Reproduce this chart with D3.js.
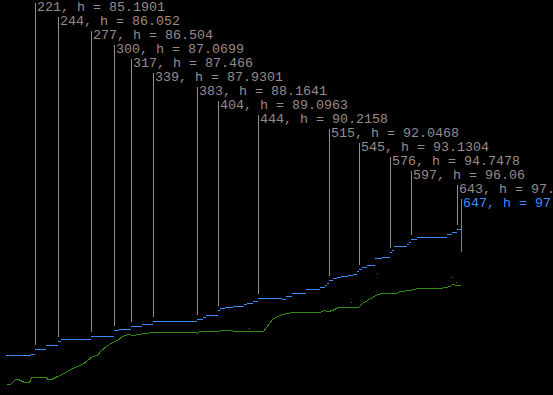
<!DOCTYPE html>
<html>
<head>
<meta charset="utf-8">
<script src="https://cdn.jsdelivr.net/npm/d3@7"></script>
<style>
	html, body { margin: 0; padding: 0; background: #000; overflow: hidden; }
	svg { display: block; }
</style>
</head>
<body>
<div id="plot"></div>
<script>

///////////////////////////////////////////////////////////////////////
// data: generation, h

const best_steps = [
	[ 192, 84.63 ], [ 217, 84.70 ], [ 221, 85.1901 ], [ 232, 85.58 ], [ 244, 86.052 ],
	[ 247, 86.17 ], [ 277, 86.504 ], [ 300, 87.0699 ], [ 305, 87.16 ], [ 317, 87.466 ],
	[ 328, 87.65 ], [ 339, 87.9301 ], [ 383, 88.1641 ], [ 389, 88.33 ], [ 392, 88.56 ],
	[ 404, 89.0963 ], [ 406, 89.25 ], [ 411, 89.32 ], [ 419, 89.45 ], [ 430, 89.61 ],
	[ 433, 89.74 ], [ 439, 89.91 ], [ 444, 90.2158 ], [ 468, 90.17 ], [ 472, 90.43 ],
	[ 478, 90.69 ], [ 492, 91.12 ], [ 506, 91.34 ], [ 511, 91.55 ], [ 513, 91.71 ],
	[ 515, 92.0468 ], [ 519, 92.17 ], [ 523, 92.30 ], [ 527, 92.42 ], [ 534, 92.52 ],
	[ 539, 92.59 ], [ 543, 92.85 ], [ 545, 93.1304 ], [ 548, 93.31 ], [ 553, 93.45 ],
	[ 561, 94.13 ], [ 568, 94.29 ], [ 576, 94.7478 ], [ 578, 94.95 ], [ 580, 95.34 ],
	[ 593, 95.54 ], [ 595, 95.75 ], [ 597, 96.06 ], [ 603, 96.20 ], [ 627, 96.26 ],
	[ 633, 96.52 ], [ 638, 96.69 ], [ 643, 97.0215 ], [ 647, 97.1208 ]
];

const mean_points = [
	[ 192, 81.81 ], [ 196, 81.81 ], [ 198, 81.93 ], [ 201, 82.24 ], [ 204, 82.32 ],
	[ 206, 82.14 ], [ 210, 81.98 ], [ 215, 82.01 ], [ 216, 82.17 ], [ 217, 82.44 ],
	[ 232, 82.44 ], [ 233, 82.24 ], [ 237, 82.27 ], [ 239, 82.37 ], [ 243, 82.57 ],
	[ 248, 82.81 ], [ 253, 83.03 ], [ 258, 83.35 ], [ 263, 83.55 ], [ 268, 83.78 ],
	[ 273, 84.11 ], [ 278, 84.50 ], [ 283, 84.63 ], [ 286, 85.05 ], [ 292, 85.47 ],
	[ 298, 85.91 ], [ 303, 86.15 ], [ 308, 86.45 ], [ 314, 86.74 ], [ 319, 86.60 ],
	[ 324, 86.65 ], [ 331, 86.76 ], [ 338, 86.86 ], [ 346, 86.92 ], [ 356, 86.86 ],
	[ 366, 86.92 ], [ 382, 86.92 ], [ 383, 86.84 ], [ 385, 86.99 ], [ 401, 87.01 ],
	[ 411, 87.06 ], [ 426, 87.02 ], [ 449, 87.02 ], [ 452, 87.41 ], [ 455, 87.75 ],
	[ 458, 88.14 ], [ 463, 88.46 ], [ 468, 88.63 ], [ 473, 88.79 ], [ 478, 88.89 ],
	[ 486, 88.81 ], [ 506, 88.81 ], [ 509, 89.05 ], [ 514, 88.91 ], [ 518, 89.05 ],
	[ 524, 89.32 ], [ 544, 89.32 ], [ 548, 89.71 ], [ 553, 90.04 ], [ 558, 90.36 ],
	[ 563, 90.60 ], [ 568, 90.75 ], [ 576, 90.72 ], [ 581, 90.77 ], [ 586, 90.92 ],
	[ 596, 91.02 ], [ 603, 91.17 ], [ 616, 91.24 ], [ 626, 91.19 ], [ 631, 91.36 ],
	[ 636, 91.46 ], [ 638, 91.56 ], [ 643, 91.48 ], [ 646, 91.49 ]
];

const mean_strays = [
	[ 435, 87.25 ], [ 537, 89.79 ], [ 563, 92.69 ], [ 638, 92.27 ], [ 642, 91.80 ]
];

const label_gens = [ 221, 244, 277, 300, 317, 339, 383, 404, 444, 515, 545, 576, 597, 643, 647 ];
const label_h = [
	"85.1901", "86.052", "86.504", "87.0699", "87.466", "87.9301", "88.1641", "89.0963",
	"90.2158", "92.0468", "93.1304", "94.7478", "96.06", "97.0215", "97.1208"
];

///////////////////////////////////////////////////////////////////////

const W = 553, H = 395;
const col_best = "#3a8cff";
const col_mean = "#338a10";
const col_label = "#9a8a8a";

let svg = d3.select( "#plot" )
	.append( "svg" )
		.attr( "width", W )
		.attr( "height", H );

svg.append( "rect" )
	.attr( "width", W )
	.attr( "height", H )
	.attr( "fill", "#000" );

let xs = d3.scaleLinear().domain( [ 186, 647 ] ).range( [ 0, 461 ] );
let ys = d3.scaleLinear().domain( [ 85.1901, 96.06 ] ).range( [ 349.3, 238.7 ] );

// mean line

svg.append( "path" )
	.datum( mean_points )
	.attr( "fill", "none" )
	.attr( "stroke", col_mean )
	.attr( "stroke-width", 1 )
	.attr( "shape-rendering", "crispEdges" )
	.attr( "d", d3.line()
		.x( d => xs( d[ 0 ] ) + 0.5 )
		.y( d => Math.round( ys( d[ 1 ] ) ) + 0.5 )
	);

svg.append( "g" )
	.selectAll( "rect" )
	.data( mean_strays )
	.join( "rect" )
		.attr( "x", d => xs( d[ 0 ] ) )
		.attr( "y", d => Math.round( ys( d[ 1 ] ) ) )
		.attr( "width", 1 )
		.attr( "height", 1 )
		.attr( "fill", col_mean );

// best so far, one flat run per step

svg.append( "g" )
	.selectAll( "rect" )
	.data( best_steps )
	.join( "rect" )
		.attr( "x", d => xs( d[ 0 ] ) )
		.attr( "y", d => Math.round( ys( d[ 1 ] ) ) )
		.attr( "width", ( d, i ) => {
			let next = i + 1 < best_steps.length ? best_steps[ i + 1 ][ 0 ] : d[ 0 ] + 1;
			return xs( next ) - xs( d[ 0 ] );
		} )
		.attr( "height", 1 )
		.attr( "fill", col_best )
		.attr( "shape-rendering", "crispEdges" );

// labels with drop lines

let last = label_gens.length - 1;

let labels = svg.append( "g" )
	.selectAll( "g" )
	.data( label_gens )
	.join( "g" );

labels.append( "line" )
	.attr( "x1", d => xs( d ) + 0.5 )
	.attr( "x2", d => xs( d ) + 0.5 )
	.attr( "y1", ( d, i ) => 3 + 14 * i )
	.attr( "y2", ( d, i ) => Math.round( ys( +label_h[ i ] ) ) + ( i == last ? 24 : -4 ) )
	.attr( "stroke", ( d, i ) => i == last ? col_best : col_label )
	.attr( "stroke-width", 1 )
	.attr( "shape-rendering", "crispEdges" );

labels.append( "text" )
	.attr( "x", d => xs( d ) + 2 )
	.attr( "y", ( d, i ) => 11 + 14 * i )
	.attr( "fill", ( d, i ) => i == last ? col_best : col_label )
	.style( "font-family", "'Liberation Mono', 'DejaVu Sans Mono', monospace" )
	.style( "font-size", "13.33px" )
	.attr( "xml:space", "preserve" )
	.text( ( d, i ) => d + ", h = " + label_h[ i ] );

</script>
</body>
</html>
